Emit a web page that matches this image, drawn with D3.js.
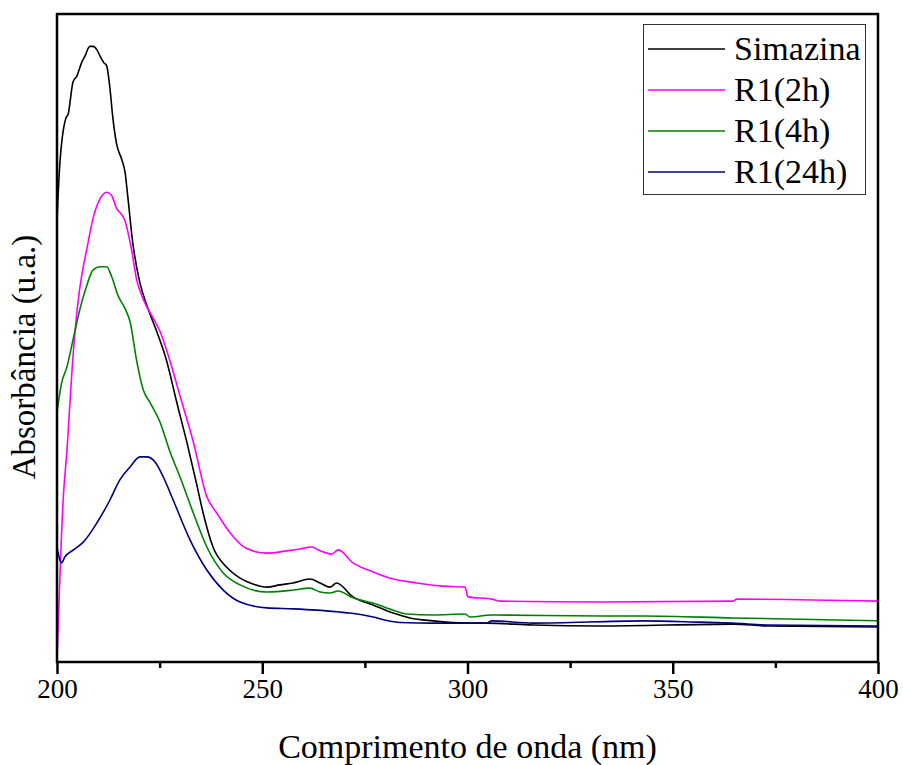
<!DOCTYPE html>
<html>
<head>
<meta charset="utf-8">
<script src="https://cdn.jsdelivr.net/npm/d3@7"></script>
<style>
  html, body { margin: 0; padding: 0; background: #fff; }
  svg { display: block; }
</style>
</head>
<body>
<svg id="chart" width="903" height="765"></svg>
<script>
// UV-Vis spectra: wavelength (nm) and absorbance (arbitrary units)
const seriesNames = ["Simazina", "R1(2h)", "R1(4h)", "R1(24h)"];
const seriesColors = ["#000000", "#ff00ff", "#008000", "#000080"];

const simazina = [
  [200, 1.36], [200.6, 1.52], [202.2, 1.68], [202.7, 1.69], [203.9, 1.79], [204.9, 1.81],
  [206.0, 1.85], [206.8, 1.87], [208.0, 1.90], [208.8, 1.90], [209.7, 1.89], [210.5, 1.87],
  [211.4, 1.85], [212.1, 1.84], [212.9, 1.77], [213.6, 1.68], [214.5, 1.60], [215.8, 1.55],
  [216.6, 1.51], [217.3, 1.43], [218.4, 1.30], [220.2, 1.17], [221.9, 1.10], [224.3, 1.02],
  [226.7, 0.93], [229.2, 0.80], [231.6, 0.68], [234.0, 0.55], [235.6, 0.46], [238.0, 0.355],
  [241.3, 0.293], [244.6, 0.259], [247.7, 0.241], [251.1, 0.231], [254.3, 0.238], [257.5, 0.244],
  [261.6, 0.256], [264.1, 0.244], [266.5, 0.231], [268.1, 0.244], [272.1, 0.201], [277.0, 0.176],
  [281.9, 0.151], [286.0, 0.136], [291.6, 0.127], [299.9, 0.120], [304.7, 0.120], [316.0, 0.114],
  [332.3, 0.111], [364.7, 0.117], [373.0, 0.111], [400, 0.108]
];

const r1_2h = [
  [200, 0.0], [201.5, 0.50], [202.4, 0.65], [204.0, 0.96], [205.2, 1.12], [206.4, 1.22],
  [207.2, 1.27], [208.8, 1.37], [210.5, 1.43], [212.1, 1.45], [213.3, 1.44], [214.5, 1.40],
  [215.8, 1.38], [216.6, 1.36], [217.4, 1.32], [218.2, 1.27], [219.4, 1.18], [221.0, 1.12],
  [223.5, 1.06], [225.1, 1.02], [227.5, 0.93], [230.0, 0.82], [233.2, 0.68], [236.5, 0.51],
  [238.9, 0.46], [242.1, 0.40], [246.2, 0.35], [251.1, 0.336], [256.0, 0.343], [259.2, 0.349],
  [262.0, 0.355], [264.1, 0.343], [266.9, 0.333], [268.5, 0.346], [272.1, 0.306], [277.0, 0.278],
  [281.9, 0.256], [287.6, 0.244], [293.3, 0.235], [299.4, 0.231], [300.1, 0.201], [305.9, 0.194],
  [307.9, 0.188], [332.3, 0.185], [364.7, 0.188], [365.6, 0.194], [400, 0.188]
];

const r1_4h = [
  [200, 0.77], [201.1, 0.86], [202.4, 0.91], [204.0, 1.00], [205.6, 1.09], [207.2, 1.16],
  [208.8, 1.21], [210.5, 1.22], [212.1, 1.22], [213.3, 1.19], [214.9, 1.13], [216.6, 1.09],
  [217.8, 1.05], [219.4, 0.93], [221.0, 0.84], [222.7, 0.80], [225.1, 0.74], [227.5, 0.65],
  [230.0, 0.57], [233.2, 0.46], [236.5, 0.355], [240.5, 0.275], [244.6, 0.238], [251.1, 0.216],
  [257.6, 0.222], [261.6, 0.228], [264.1, 0.216], [266.5, 0.213], [268.5, 0.219], [272.1, 0.198],
  [277.0, 0.182], [281.9, 0.160], [285.2, 0.148], [291.6, 0.145], [299.4, 0.148], [300.6, 0.139],
  [305.9, 0.145], [332.3, 0.142], [342.8, 0.142], [364.7, 0.136], [400, 0.127]
];

const r1_24h = [
  [200, 0.355], [200.7, 0.315], [201.1, 0.306], [201.9, 0.324], [204.0, 0.346], [206.4, 0.370],
  [209.7, 0.429], [212.9, 0.500], [215.3, 0.562], [217.8, 0.602], [220.2, 0.633], [221.9, 0.633],
  [223.9, 0.617], [225.9, 0.571], [228.3, 0.500], [232.4, 0.377], [236.5, 0.284], [240.5, 0.222],
  [244.6, 0.185], [251.1, 0.167], [257.6, 0.164], [263.3, 0.160], [268.9, 0.154], [271.4, 0.151],
  [277.0, 0.139], [280.0, 0.129], [283.5, 0.122], [291.6, 0.120], [304.7, 0.120], [305.9, 0.127],
  [316.0, 0.120], [342.8, 0.127], [356.6, 0.123], [364.7, 0.120], [373.0, 0.114], [400, 0.111]
];

const majorTicks = [200, 250, 300, 350, 400];
const minorTicks = [225, 275, 325, 375];

const xLabel = "Comprimento de onda (nm)";
const yLabel = "Absorbância (u.a.)";

const allSeries = [simazina, r1_2h, r1_4h, r1_24h];

// Layout
const plot = { left: 57, right: 878, top: 14, bottom: 662 };
const serif = '"Liberation Serif"';

const svg = d3.select("#chart");

const x = d3.scaleLinear().domain([200, 400]).range([plot.left, plot.right]);
const y = d3.scaleLinear().domain([0, 2.0]).range([plot.bottom, plot.top]);

// Spectra
const line = d3.line()
  .x(d => x(d[0]))
  .y(d => y(d[1]))
  .curve(d3.curveMonotoneX);

svg.append("clipPath").attr("id", "plot-clip")
  .append("rect")
  .attr("x", plot.left).attr("y", plot.top)
  .attr("width", plot.right - plot.left).attr("height", plot.bottom - plot.top);

svg.append("g").attr("clip-path", "url(#plot-clip)")
  .selectAll("path")
  .data(allSeries)
  .join("path")
  .attr("d", line)
  .attr("fill", "none")
  .attr("stroke", (d, i) => seriesColors[i])
  .attr("stroke-width", 1.6)
  .attr("stroke-linejoin", "round");

// Bottom axis: major ticks with labels, minor ticks without
const xAxis = d3.axisBottom(x)
  .tickValues(majorTicks)
  .tickSize(12)
  .tickFormat(d3.format("d"));

const gx = svg.append("g")
  .attr("transform", `translate(0,${plot.bottom})`)
  .call(xAxis);
gx.attr("font-family", null).attr("font-size", null);
gx.select(".domain").remove();
gx.selectAll(".tick line").attr("stroke", "#000").attr("stroke-width", 2.5);
gx.selectAll(".tick text")
  .style("font-family", serif)
  .style("font-size", "27px")
  .attr("fill", "#000")
  .attr("y", 17)
  .attr("dy", "0.71em");

const xMinor = d3.axisBottom(x).tickValues(minorTicks).tickSize(6).tickFormat("");
const gxm = svg.append("g")
  .attr("transform", `translate(0,${plot.bottom})`)
  .call(xMinor);
gxm.select(".domain").remove();
gxm.selectAll(".tick line").attr("stroke", "#000").attr("stroke-width", 2.5);

// Frame
svg.append("rect")
  .attr("x", plot.left).attr("y", plot.top)
  .attr("width", plot.right - plot.left).attr("height", plot.bottom - plot.top)
  .attr("fill", "none")
  .attr("stroke", "#000")
  .attr("stroke-width", 2.5);

// Axis titles
svg.append("text")
  .attr("x", (plot.left + plot.right) / 2)
  .attr("y", 758)
  .attr("text-anchor", "middle")
  .style("font-family", serif)
  .style("font-size", "34px")
  .attr("fill", "#000")
  .text(xLabel);

svg.append("text")
  .attr("transform", "translate(35,357) rotate(-90)")
  .attr("text-anchor", "middle")
  .style("font-family", serif)
  .style("font-size", "33px")
  .attr("fill", "#000")
  .text(yLabel);

// Legend
const legend = svg.append("g");
legend.append("rect")
  .attr("x", 643.5).attr("y", 24.5)
  .attr("width", 222).attr("height", 170)
  .attr("fill", "#fff")
  .attr("stroke", "#333")
  .attr("stroke-width", 1);

const rowY = [49, 90, 131, 172];
const items = legend.selectAll("g.item")
  .data(seriesNames)
  .join("g")
  .attr("class", "item")
  .attr("transform", (d, i) => `translate(0,${rowY[i]})`);

items.append("line")
  .attr("x1", 648).attr("x2", 725)
  .attr("y1", 0).attr("y2", 0)
  .attr("stroke", (d, i) => seriesColors[i])
  .attr("stroke-width", 1.6);

items.append("text")
  .attr("x", 734)
  .attr("y", 11)
  .style("font-family", serif)
  .style("font-size", "34px")
  .attr("fill", "#000")
  .text(d => d);
</script>
</body>
</html>
